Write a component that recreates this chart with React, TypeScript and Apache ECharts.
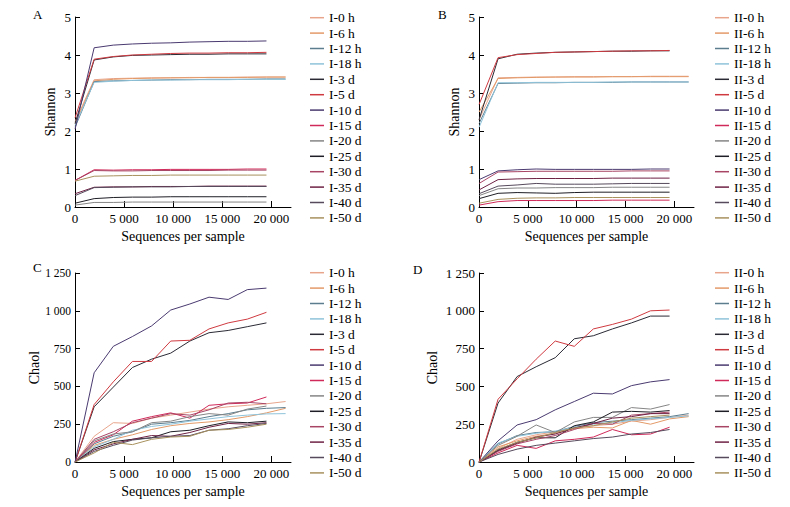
import React, { useEffect, useRef } from "react";
import * as echarts from "echarts";

const FONT = "'Liberation Serif', 'Times New Roman', serif";

const depthsSteps = [10, 1950, 3900, 5850, 7800, 9750, 11700, 13650, 15600, 17550, 19500, 21450];
const xTicks = [0, 5000, 10000, 15000, 20000];
const shannonTicks = [0, 1, 2, 3, 4, 5];
const chaoTicks = [0, 250, 500, 750, 1000, 1250];

const sampleSuffixes = ["0 h", "6 h", "12 h", "18 h", "3 d", "5 d", "10 d", "15 d", "20 d", "25 d", "30 d", "35 d", "40 d", "50 d"];
const sampleColors = [
  "#e8a58c", "#e39a68", "#5b7d8e", "#8fc3da", "#2a2a35", "#cf3a40", "#4a3a70",
  "#d02a5a", "#858585", "#1e1e26", "#a84565", "#6e2244", "#564a5c", "#a8925e",
];

const shannonI: number[][] = [
  [2.25, 3.35, 3.38, 3.39, 3.4, 3.4, 3.41, 3.41, 3.41, 3.42, 3.42, 3.42],
  [2.2, 3.32, 3.36, 3.38, 3.39, 3.4, 3.4, 3.41, 3.41, 3.41, 3.42, 3.42],
  [2.1, 3.3, 3.32, 3.33, 3.34, 3.35, 3.35, 3.36, 3.36, 3.36, 3.37, 3.37],
  [2.15, 3.28, 3.31, 3.33, 3.34, 3.34, 3.35, 3.35, 3.35, 3.36, 3.36, 3.36],
  [2.2, 3.87, 3.95, 3.99, 4.0, 4.01, 4.02, 4.02, 4.03, 4.03, 4.03],
  [2.35, 3.89, 3.96, 4.0, 4.02, 4.04, 4.05, 4.05, 4.06, 4.06, 4.07],
  [2.05, 4.19, 4.26, 4.29, 4.31, 4.32, 4.34, 4.35, 4.36, 4.36, 4.37],
  [0.7, 0.98, 0.97, 0.98, 0.98, 0.99, 0.99, 0.99, 0.99, 1.0, 1.0],
  [0.05, 0.12, 0.12, 0.13, 0.13, 0.13, 0.13, 0.13, 0.13, 0.13, 0.13],
  [0.1, 0.22, 0.25, 0.26, 0.26, 0.27, 0.27, 0.27, 0.27, 0.27, 0.27],
  [0.7, 0.96, 0.95, 0.95, 0.96, 0.96, 0.96, 0.96, 0.97, 0.97, 0.97],
  [0.35, 0.52, 0.53, 0.53, 0.54, 0.54, 0.54, 0.55, 0.55, 0.55, 0.55],
  [0.3, 0.51, 0.52, 0.53, 0.53, 0.53, 0.54, 0.54, 0.54, 0.54, 0.54],
  [0.68, 0.81, 0.82, 0.83, 0.83, 0.84, 0.84, 0.84, 0.84, 0.84, 0.84],
];

const shannonII: number[][] = [
  [2.3, 3.4, 3.41, 3.42, 3.42, 3.43, 3.43, 3.43, 3.43, 3.44, 3.44, 3.44],
  [2.5, 3.38, 3.4, 3.41, 3.42, 3.42, 3.42, 3.43, 3.43, 3.43, 3.43, 3.43],
  [2.2, 3.25, 3.26, 3.27, 3.27, 3.28, 3.28, 3.28, 3.29, 3.29, 3.29, 3.29],
  [2.1, 3.27, 3.27, 3.28, 3.28, 3.28, 3.28, 3.29, 3.29, 3.29, 3.29, 3.29],
  [2.3, 3.9, 4.02, 4.05, 4.07, 4.08, 4.09, 4.1, 4.1, 4.11, 4.11],
  [2.7, 3.93, 4.01, 4.04, 4.07, 4.08, 4.09, 4.1, 4.11, 4.11, 4.12],
  [0.72, 0.95, 0.98, 1.0, 0.99, 0.99, 0.99, 0.99, 0.99, 1.0, 1.0],
  [0.05, 0.14, 0.17, 0.17, 0.17, 0.17, 0.17, 0.18, 0.18, 0.18, 0.18],
  [0.3, 0.48, 0.5, 0.5, 0.51, 0.51, 0.51, 0.52, 0.52, 0.52, 0.52],
  [0.22, 0.36, 0.38, 0.37, 0.36, 0.38, 0.39, 0.39, 0.39, 0.39, 0.39],
  [0.62, 0.92, 0.93, 0.94, 0.94, 0.94, 0.94, 0.94, 0.95, 0.95, 0.95],
  [0.45, 0.72, 0.74, 0.75, 0.75, 0.75, 0.75, 0.76, 0.76, 0.76, 0.76],
  [0.35, 0.55, 0.58, 0.62, 0.6, 0.6, 0.6, 0.61, 0.62, 0.62, 0.62],
  [0.1, 0.2, 0.23, 0.24, 0.24, 0.25, 0.25, 0.25, 0.25, 0.25, 0.25],
];

const chaoI: number[][] = [
  [0, 170, 260, 255, 290, 310, 330, 350, 365, 375, 385, 400],
  [0, 110, 150, 180, 215, 240, 255, 265, 280, 300, 325, 355],
  [0, 120, 170, 200, 250, 260, 275, 300, 320, 345, 355, 360],
  [0, 100, 150, 210, 235, 250, 270, 285, 300, 310, 318, 320],
  [0, 365, 495, 625, 680, 720, 800, 855, 870, 895, 920],
  [0, 380, 530, 665, 665, 800, 805, 880, 920, 945, 990],
  [0, 590, 765, 830, 900, 1005, 1045, 1090, 1075, 1140, 1150],
  [0, 130, 180, 270, 300, 325, 290, 375, 385, 390, 430],
  [0, 140, 185, 200, 260, 270, 300, 320, 310, 350, 370],
  [0, 90, 135, 150, 160, 200, 210, 240, 265, 260, 270],
  [0, 150, 200, 260, 290, 320, 310, 345, 390, 395, 385],
  [0, 80, 120, 150, 175, 170, 195, 230, 255, 250, 260],
  [0, 70, 110, 145, 160, 170, 175, 210, 220, 240, 255],
  [0, 60, 130, 115, 150, 165, 170, 210, 215, 230, 250],
];

const chaoII: number[][] = [
  [0, 90, 150, 180, 200, 225, 240, 250, 270, 280, 295, 310],
  [0, 100, 140, 170, 190, 220, 230, 225, 275, 250, 285, 300],
  [0, 120, 175, 195, 200, 235, 260, 270, 280, 290, 300, 320],
  [0, 125, 170, 190, 205, 230, 250, 260, 275, 285, 295, 305],
  [0, 390, 565, 630, 690, 815, 835, 880, 920, 965, 965],
  [0, 415, 550, 680, 800, 765, 880, 910, 945, 1000, 1005],
  [0, 140, 245, 280, 345, 400, 455, 450, 505, 530, 545],
  [0, 60, 110, 90, 140, 150, 165, 215, 180, 185, 230],
  [0, 110, 170, 245, 195, 265, 295, 295, 360, 350, 380],
  [0, 80, 130, 160, 160, 240, 265, 330, 335, 330, 340],
  [0, 70, 120, 150, 175, 215, 255, 250, 310, 320, 330],
  [0, 75, 125, 165, 185, 225, 255, 290, 300, 320, 320],
  [0, 50, 85, 110, 125, 140, 155, 165, 185, 195, 215],
  [0, 85, 130, 160, 195, 225, 240, 265, 290, 300, 310],
];

function fmtNum(v: number): string {
  const s = String(Math.round(v));
  if (s.length <= 3) return s;
  return s.slice(0, s.length - 3) + " " + s.slice(s.length - 3);
}

type Panel = {
  letter: string;
  prefix: string;
  values: number[][];
  yName: string;
  yTicks: number[];
  yMax: number;
  yInterval: number;
  grid: { left: number; top: number; width: number; height: number };
  legendLeft: number;
  legendTop: number;
  letterPos: [number, number];
  yNameGap: number;
  yLabelSize: number;
};

const panels: Panel[] = [
  {
    letter: "A", prefix: "I-", values: shannonI, yName: "Shannon", yTicks: shannonTicks, yMax: 5, yInterval: 1,
    grid: { left: 75, top: 17, width: 216, height: 190 }, legendLeft: 310, legendTop: 10, letterPos: [33, 8], yNameGap: 18, yLabelSize: 13,
  },
  {
    letter: "B", prefix: "II-", values: shannonII, yName: "Shannon", yTicks: shannonTicks, yMax: 5, yInterval: 1,
    grid: { left: 479, top: 17, width: 215, height: 190 }, legendLeft: 715, legendTop: 10, letterPos: [438, 8], yNameGap: 18, yLabelSize: 13,
  },
  {
    letter: "C", prefix: "I-", values: chaoI, yName: "Chaol", yTicks: chaoTicks, yMax: 1250, yInterval: 250,
    grid: { left: 75, top: 273, width: 216, height: 189 }, legendLeft: 310, legendTop: 265, letterPos: [33, 261], yNameGap: 26, yLabelSize: 11.5,
  },
  {
    letter: "D", prefix: "II-", values: chaoII, yName: "Chaol", yTicks: chaoTicks, yMax: 1250, yInterval: 250,
    grid: { left: 479, top: 273, width: 215, height: 189 }, legendLeft: 715, legendTop: 265, letterPos: [413, 263], yNameGap: 40, yLabelSize: 13,
  },
];

export default function App() {
  const ref = useRef<HTMLDivElement>(null);

  useEffect(() => {
    if (!ref.current) return;
    const chart = echarts.init(ref.current, undefined, { renderer: "svg" });

    const grids: any[] = [];
    const xAxes: any[] = [];
    const yAxes: any[] = [];
    const legends: any[] = [];
    const series: any[] = [];
    const graphics: any[] = [];

    panels.forEach((p, pi) => {
      grids.push({ ...p.grid, containLabel: false });
      xAxes.push({
        gridIndex: pi,
        type: "value",
        min: 0,
        max: 22000,
        interval: 5000,
        axisLine: { lineStyle: { color: "#000", width: 1 } },
        axisTick: { inside: true, length: 6, customValues: xTicks, lineStyle: { color: "#000" } },
        axisLabel: { customValues: xTicks, formatter: (v: number) => fmtNum(v), fontSize: 13, color: "#000", fontFamily: FONT, margin: 5 },
        splitLine: { show: false },
        name: "Sequences per sample",
        nameLocation: "middle",
        nameGap: 22,
        nameTextStyle: { fontSize: 14, color: "#000", fontFamily: FONT },
      });
      yAxes.push({
        gridIndex: pi,
        type: "value",
        min: 0,
        max: p.yMax,
        interval: p.yInterval,
        axisLine: { show: true, lineStyle: { color: "#000", width: 1 } },
        axisTick: { show: true, inside: true, length: 5, lineStyle: { color: "#000" } },
        axisLabel: { formatter: (v: number) => fmtNum(v), fontSize: p.yLabelSize, color: "#000", fontFamily: FONT, margin: 4 },
        splitLine: { show: false },
        name: p.yName,
        nameLocation: "middle",
        nameGap: p.yNameGap,
        nameTextStyle: { fontSize: 14, color: "#000", fontFamily: FONT },
      });
      const names = sampleSuffixes.map((s) => p.prefix + s);
      legends.push({
        orient: "vertical",
        left: p.legendLeft,
        top: p.legendTop,
        padding: 0,
        itemGap: 0,
        itemWidth: 14,
        itemHeight: 1.5,
        icon: "rect",
        data: names,
        textStyle: { fontSize: 13.5, lineHeight: 15.4, color: "#000", fontFamily: FONT },
        selectedMode: false,
      });
      p.values.forEach((vals, si) => {
        series.push({
          type: "line",
          name: names[si],
          xAxisIndex: pi,
          yAxisIndex: pi,
          symbol: "none",
          data: vals.map((v, k) => [depthsSteps[k], v]),
          lineStyle: { color: sampleColors[si], width: 1 },
          itemStyle: { color: sampleColors[si] },
          emphasis: { disabled: true },
        });
      });
      graphics.push({
        type: "text",
        left: p.letterPos[0],
        top: p.letterPos[1],
        style: { text: p.letter, fontSize: 13, fill: "#000", fontFamily: FONT },
      });
    });

    chart.setOption({
      animation: false,
      backgroundColor: "#fff",
      grid: grids,
      xAxis: xAxes,
      yAxis: yAxes,
      legend: legends,
      series,
      graphic: graphics,
    });

    return () => chart.dispose();
  }, []);

  return <div ref={ref} style={{ width: 790, height: 507, position: "absolute", left: 0, top: 0 }} />;
}
